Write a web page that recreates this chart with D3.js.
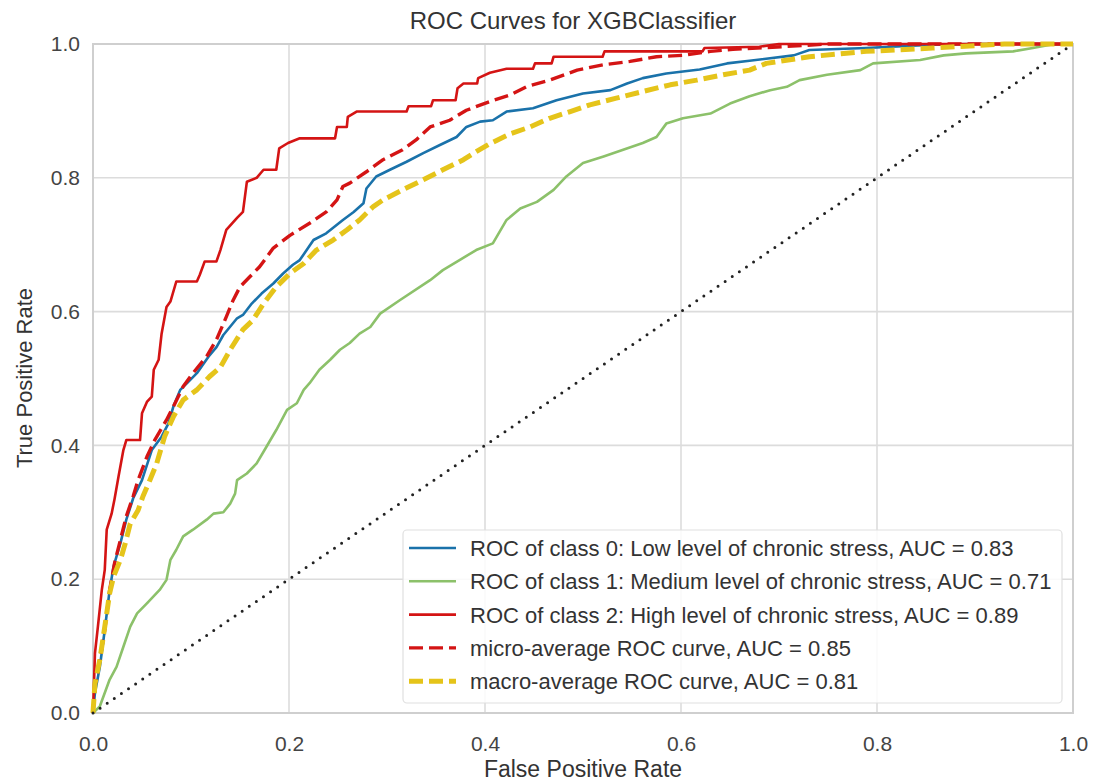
<!DOCTYPE html>
<html>
<head>
<meta charset="utf-8">
<script src="https://cdn.jsdelivr.net/npm/d3@7"></script>
<style>
  body { margin: 0; background: #fff; }
  svg { font-family: "Liberation Sans", Arial, sans-serif; }
</style>
</head>
<body>
<svg id="chart" width="1096" height="783"></svg>
<script>
// curves, [fpr, tpr]
const class0 = [[0,0],[0.002,0.03],[0.007,0.069],[0.012,0.124],[0.017,0.184],[0.021,0.219],[0.028,0.254],[0.034,0.289],
  [0.041,0.321],[0.05,0.348],[0.06,0.393],[0.07,0.413],[0.077,0.433],[0.082,0.458],[0.089,0.483],[0.096,0.493],
  [0.106,0.508],[0.118,0.533],[0.126,0.547],[0.133,0.565],[0.147,0.59],[0.153,0.595],[0.162,0.612],[0.172,0.627],
  [0.184,0.642],[0.194,0.657],[0.204,0.67],[0.211,0.677],[0.225,0.707],[0.238,0.717],[0.255,0.737],[0.266,0.749],
  [0.276,0.762],[0.279,0.784],[0.289,0.802],[0.303,0.812],[0.32,0.824],[0.337,0.837],[0.354,0.849],[0.371,0.861],
  [0.381,0.876],[0.395,0.884],[0.408,0.886],[0.422,0.899],[0.449,0.904],[0.473,0.916],[0.5,0.926],[0.528,0.931],
  [0.545,0.941],[0.561,0.949],[0.585,0.956],[0.619,0.962],[0.647,0.971],[0.67,0.975],[0.715,0.983],[0.731,0.991],
  [0.789,0.994],[0.857,0.999],[0.9,1],[1,1]];

const class1 = [[0,0],[0.007,0.01],[0.017,0.05],[0.024,0.069],[0.031,0.099],[0.038,0.129],[0.045,0.149],[0.055,0.164],
  [0.068,0.184],[0.075,0.199],[0.079,0.229],[0.085,0.244],[0.092,0.264],[0.102,0.274],[0.116,0.289],[0.123,0.298],
  [0.133,0.3],[0.14,0.313],[0.145,0.328],[0.147,0.348],[0.157,0.358],[0.167,0.373],[0.177,0.398],[0.187,0.423],
  [0.198,0.453],[0.208,0.463],[0.215,0.483],[0.221,0.493],[0.231,0.513],[0.242,0.528],[0.252,0.543],[0.262,0.553],
  [0.272,0.567],[0.283,0.577],[0.293,0.597],[0.313,0.617],[0.344,0.647],[0.357,0.662],[0.374,0.677],[0.391,0.692],
  [0.408,0.702],[0.422,0.737],[0.436,0.754],[0.453,0.764],[0.47,0.782],[0.483,0.802],[0.5,0.822],[0.521,0.832],
  [0.541,0.842],[0.561,0.852],[0.575,0.861],[0.585,0.881],[0.602,0.889],[0.63,0.896],[0.65,0.911],[0.67,0.922],
  [0.691,0.931],[0.708,0.936],[0.721,0.946],[0.749,0.954],[0.783,0.961],[0.796,0.971],[0.844,0.976],[0.868,0.983],
  [0.891,0.986],[0.939,0.989],[0.959,0.994],[0.977,0.999],[1,1]];

const class2 = [[0,0],[0.002,0.089],[0.005,0.129],[0.009,0.184],[0.012,0.214],[0.014,0.274],[0.019,0.298],[0.022,0.32],
  [0.026,0.353],[0.031,0.393],[0.034,0.408],[0.048,0.408],[0.05,0.448],[0.055,0.465],[0.06,0.473],[0.062,0.513],
  [0.067,0.528],[0.07,0.567],[0.075,0.607],[0.079,0.615],[0.085,0.645],[0.106,0.645],[0.109,0.655],[0.114,0.675],
  [0.126,0.675],[0.13,0.692],[0.136,0.722],[0.147,0.74],[0.153,0.749],[0.157,0.794],[0.167,0.8],[0.174,0.812],
  [0.187,0.812],[0.19,0.844],[0.199,0.852],[0.211,0.859],[0.247,0.859],[0.249,0.876],[0.259,0.876],[0.26,0.891],
  [0.269,0.899],[0.32,0.899],[0.322,0.907],[0.345,0.907],[0.347,0.916],[0.37,0.916],[0.372,0.934],[0.378,0.941],
  [0.392,0.941],[0.393,0.949],[0.405,0.957],[0.422,0.963],[0.449,0.963],[0.451,0.971],[0.468,0.971],[0.47,0.981],
  [0.52,0.981],[0.522,0.989],[0.622,0.989],[0.624,0.994],[0.68,0.996],[0.7,1],[1,1]];

const micro = [[0,0],[0.002,0.04],[0.007,0.08],[0.012,0.124],[0.017,0.184],[0.022,0.224],[0.028,0.259],[0.034,0.294],
  [0.041,0.324],[0.046,0.348],[0.055,0.383],[0.063,0.408],[0.075,0.438],[0.082,0.458],[0.092,0.488],[0.102,0.508],
  [0.116,0.533],[0.126,0.558],[0.136,0.592],[0.143,0.617],[0.15,0.637],[0.16,0.652],[0.17,0.667],[0.184,0.695],
  [0.201,0.714],[0.221,0.732],[0.238,0.749],[0.249,0.767],[0.255,0.787],[0.262,0.792],[0.279,0.809],[0.296,0.827],
  [0.316,0.842],[0.33,0.857],[0.344,0.876],[0.364,0.886],[0.381,0.901],[0.405,0.914],[0.426,0.924],[0.442,0.936],
  [0.466,0.946],[0.494,0.961],[0.521,0.969],[0.548,0.974],[0.575,0.981],[0.602,0.983],[0.63,0.989],[0.653,0.992],
  [0.704,0.996],[0.75,1],[1,1]];

const macro = [[0,0],[0.002,0.044],[0.007,0.08],[0.011,0.119],[0.014,0.149],[0.017,0.179],[0.021,0.204],[0.028,0.229],
  [0.033,0.254],[0.038,0.283],[0.046,0.303],[0.051,0.324],[0.058,0.348],[0.065,0.373],[0.073,0.413],[0.082,0.443],
  [0.092,0.468],[0.106,0.483],[0.119,0.503],[0.13,0.517],[0.14,0.543],[0.153,0.573],[0.163,0.587],[0.174,0.612],
  [0.187,0.637],[0.201,0.657],[0.215,0.672],[0.228,0.692],[0.245,0.707],[0.259,0.722],[0.272,0.737],[0.286,0.757],
  [0.296,0.767],[0.316,0.782],[0.337,0.797],[0.357,0.812],[0.378,0.827],[0.391,0.839],[0.405,0.851],[0.426,0.866],
  [0.446,0.876],[0.466,0.889],[0.487,0.899],[0.507,0.909],[0.534,0.919],[0.561,0.929],[0.589,0.939],[0.616,0.946],
  [0.643,0.954],[0.67,0.961],[0.687,0.971],[0.731,0.981],[0.789,0.989],[0.857,0.994],[0.93,1],[1,1]];

const chance = [[0,0],[1,1]];

const ticks = [0, 0.2, 0.4, 0.6, 0.8, 1.0];

const legendLabels = [
  "ROC of class 0: Low level of chronic stress, AUC = 0.83",
  "ROC of class 1: Medium level of chronic stress, AUC = 0.71",
  "ROC of class 2: High level of chronic stress, AUC = 0.89",
  "micro-average ROC curve, AUC = 0.85",
  "macro-average ROC curve, AUC = 0.81"
];

const series = [
  {data: class0, color: "#1a72aa", width: 2.6, dash: null},
  {data: class1, color: "#8cc16a", width: 2.6, dash: null},
  {data: class2, color: "#d41414", width: 2.6, dash: null},
  {data: micro, color: "#d41414", width: 3.4, dash: "14,6"},
  {data: macro, color: "#e5c41a", width: 5, dash: "14,6"}
];

const svg = d3.select("#chart");
const m = {left: 93, right: 1073, top: 44, bottom: 713};

const x = d3.scaleLinear().domain([0, 1]).range([m.left, m.right]);
const y = d3.scaleLinear().domain([0, 1]).range([m.bottom, m.top]);

// grid
const grid = svg.append("g");
grid.selectAll("line.vx").data(ticks).enter().append("line")
  .attr("x1", d => x(d)).attr("x2", d => x(d))
  .attr("y1", m.top).attr("y2", m.bottom)
  .attr("stroke", "#dcdcdc").attr("stroke-width", 1.6);
grid.selectAll("line.hy").data(ticks).enter().append("line")
  .attr("x1", m.left).attr("x2", m.right)
  .attr("y1", d => y(d)).attr("y2", d => y(d))
  .attr("stroke", "#dcdcdc").attr("stroke-width", 1.6);

svg.append("rect")
  .attr("x", m.left).attr("y", m.top)
  .attr("width", m.right - m.left).attr("height", m.bottom - m.top)
  .attr("fill", "none").attr("stroke", "#cfcfcf").attr("stroke-width", 2);

// axes, no tick marks
const xAxis = svg.append("g")
  .attr("transform", `translate(0,${m.bottom})`)
  .call(d3.axisBottom(x).tickValues(ticks).tickFormat(d3.format(".1f")).tickSize(0).tickPadding(23));
const yAxis = svg.append("g")
  .attr("transform", `translate(${m.left},0)`)
  .call(d3.axisLeft(y).tickValues(ticks).tickFormat(d3.format(".1f")).tickSize(0).tickPadding(13));
[xAxis, yAxis].forEach(a => {
  a.select(".domain").remove();
  a.selectAll("text").attr("font-size", 21).attr("fill", "#444")
    .style("font-family", "'Liberation Sans', Arial, sans-serif");
});

const line = d3.line().x(d => x(d[0])).y(d => y(d[1]));

const plot = svg.append("g");
series.forEach(s => {
  plot.append("path")
    .datum(s.data)
    .attr("d", line)
    .attr("fill", "none")
    .attr("stroke", s.color)
    .attr("stroke-width", s.width)
    .attr("stroke-dasharray", s.dash)
    .attr("stroke-linejoin", "round");
});

plot.append("path")
  .datum(chance)
  .attr("d", line)
  .attr("fill", "none")
  .attr("stroke", "#222")
  .attr("stroke-width", 3)
  .attr("stroke-linecap", "round")
  .attr("stroke-dasharray", "0,8.6");

// legend
const lg = svg.append("g");
lg.append("rect")
  .attr("x", 403).attr("y", 530).attr("width", 659).attr("height", 173)
  .attr("rx", 4)
  .attr("fill", "#fff").attr("fill-opacity", 0.85)
  .attr("stroke", "#e0e0e0").attr("stroke-width", 1.2);

const items = lg.selectAll("g.item").data(series).enter().append("g")
  .attr("transform", (d, i) => `translate(0,${548 + i * 33.3})`);
items.append("line")
  .attr("x1", 409).attr("x2", 456)
  .attr("stroke", d => d.color)
  .attr("stroke-width", d => d.width)
  .attr("stroke-dasharray", d => d.dash);
items.append("text")
  .attr("x", 470).attr("y", 8)
  .attr("font-size", 22).attr("fill", "#333")
  .text((d, i) => legendLabels[i]);

// titles
svg.append("text")
  .attr("x", 573).attr("y", 29)
  .attr("text-anchor", "middle").attr("font-size", 24).attr("fill", "#333")
  .text("ROC Curves for XGBClassifier");
svg.append("text")
  .attr("x", 583).attr("y", 777)
  .attr("text-anchor", "middle").attr("font-size", 23).attr("fill", "#333")
  .text("False Positive Rate");
svg.append("text")
  .attr("transform", "translate(32,378) rotate(-90)")
  .attr("text-anchor", "middle").attr("font-size", 22).attr("fill", "#333")
  .text("True Positive Rate");
</script>
</body>
</html>
